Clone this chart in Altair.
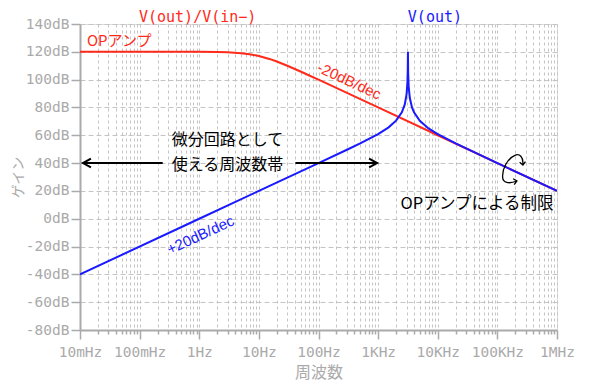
import altair as alt
import pandas as pd

# ---- data ----
red_f = [0.01, 0.1, 1, 2, 3, 5, 7, 10, 15, 20, 30, 50, 70, 100, 1000, 1e4, 1e5, 1e6]
red_db = [120, 120, 119.96, 119.83, 119.62, 119.03, 118.26, 116.99, 114.89, 113.01,
          110.0, 105.85, 102.96, 99.96, 80, 60, 40, 20]

blue_f = [0.01, 1, 10, 100, 300, 500, 1000, 1500, 2000, 2500, 2800, 3000, 3100, 3140,
          3162, 3190, 3250, 3400, 3700, 4000, 5000, 7000, 10000, 20000, 1e5, 1e6]
blue_db = [-40, 0, 20, 40, 49.6, 54.2, 60.9, 65.7, 70.5, 76.5, 82.2, 89.5, 98, 107,
           120, 105, 95.2, 86.8, 80.0, 76.5, 70.4, 64.9, 60.9, 54.2, 40, 20]

x_tick_labels = ["10mHz", "100mHz", "1Hz", "10Hz", "100Hz", "1KHz", "10KHz", "100KHz", "1MHz"]
decades = [0.01, 0.1, 1, 10, 100, 1e3, 1e4, 1e5, 1e6]
grid_f = [d * m for d in decades[:-1] for m in range(1, 10)] + [1e6]
y_ticks = [-80, -60, -40, -20, 0, 20, 40, 60, 80, 100, 120, 140]

# annotations (freq, dB)
titles = ["V(out)/V(in\u2212)", "V(out)"]
title_f = [0.94, 8970]
title_db = [145.3, 145.3]
title_col = ["#ff2a1a", "#1a1aff"]

jp_text = ["微分回路として", "使える周波数帯"]
jp_f = [0.345, 0.345]
jp_db = [56.6, 38.6]

RED = "#ff2a1a"
BLUE = "#1a1aff"
GRAY = "#aaaaaa"

red_df = pd.DataFrame({"f": red_f, "db": red_db})
blue_df = pd.DataFrame({"f": blue_f, "db": blue_db})

label_expr = "[" + ",".join("'%s'" % s for s in x_tick_labels) + "][round(log(datum.value)/LN10)+2]"
is_decade = "abs(log(datum.value)/LN10 - round(log(datum.value)/LN10)) < 0.001"

xscale = alt.Scale(type="log", domain=[0.01, 1e6], nice=False)
yscale = alt.Scale(domain=[-80, 140], nice=False)

xaxis = alt.Axis(
    values=grid_f,
    labelExpr="(%s) ? %s : ''" % (is_decade, label_expr),
    grid=True, gridDash=[3, 3], gridColor="#c4c4c4", gridWidth=1,
    tickColor=GRAY, tickWidth=1.5,
    tickSize={"condition": {"test": is_decade, "value": 9}, "value": 4},
    domainColor=GRAY, domainWidth=2,
    labelFont="DejaVu Sans Mono", labelFontSize=14.5, labelColor=GRAY,
    labelPadding=6, labelFlush=False, labelOverlap=False,
    title="周波数", titleFont="Noto Sans CJK JP", titleFontSize=16, titleColor=GRAY,
    titleFontWeight="normal", titleY=42, titleBaseline="middle",
)
yaxis = alt.Axis(
    values=y_ticks, labelExpr="datum.value + 'dB'",
    grid=True, gridDash=[5, 3], gridColor="#c4c4c4", gridWidth=1,
    tickColor=GRAY, tickWidth=1.5, tickSize=9,
    domainColor=GRAY, domainWidth=2,
    labelFont="DejaVu Sans Mono", labelFontSize=14.5, labelColor=GRAY,
    labelPadding=2, labelFlush=False, labelOverlap=False,
    title="ゲイン", titleFont="Noto Sans CJK JP", titleFontSize=14, titleColor=GRAY,
    titleFontWeight="normal", titleX=-62, titleY=153, titleAngle=270,
    titleAlign="center", titleBaseline="middle",
)

X = alt.X("f:Q", scale=xscale, axis=xaxis)
Y = alt.Y("db:Q", scale=yscale, axis=yaxis)

red_line = alt.Chart(red_df).mark_line(color=RED, strokeWidth=2, clip=True).encode(x=X, y=Y)
blue_line = alt.Chart(blue_df).mark_line(color=BLUE, strokeWidth=2, clip=True).encode(x=X, y=Y)

def txt(df, **kw):
    return alt.Chart(df).mark_text(**kw).encode(x=X, y=Y, text="t:N")

title_df = pd.DataFrame({"t": titles, "f": title_f, "db": title_db, "c": title_col})
title_marks = alt.Chart(title_df).mark_text(font="DejaVu Sans Mono", fontSize=15,
                                            baseline="middle", align="center").encode(
    x=X, y=Y, text="t:N", color=alt.Color("c:N", scale=None))

op_lbl = txt(pd.DataFrame({"t": ["OPアンプ"], "f": [0.0131], "db": [128]}),
             font="Noto Sans CJK JP", fontSize=15, color=RED, align="left", baseline="middle")
m20 = txt(pd.DataFrame({"t": ["-20dB/dec"], "f": [327], "db": [99]}),
          font="Liberation Sans", fontSize=15, color=RED, angle=25, align="center", baseline="middle")
p20 = txt(pd.DataFrame({"t": ["+20dB/dec"], "f": [1.05], "db": [-11.7]}),
          font="Liberation Sans", fontSize=15, color=BLUE, angle=335, align="center", baseline="middle")
jp = txt(pd.DataFrame({"t": jp_text, "f": jp_f, "db": jp_db}),
         font="Noto Sans CJK JP", fontSize=16, color="black", align="left", baseline="middle")
lim = txt(pd.DataFrame({"t": ["OPアンプによる制限"], "f": [877000], "db": [10.6]}),
          font="Noto Sans CJK JP", fontSize=16.5, color="black", align="right", baseline="middle")

arrow_df = pd.DataFrame({"f": [0.0112, 41], "f2": [0.244, 962], "db": [40, 40]})
arrow_lines = alt.Chart(arrow_df).mark_rule(color="black", strokeWidth=2).encode(
    x=X, x2="f2:Q", y=Y)
head_l = alt.Chart(pd.DataFrame({"f": [0.0112], "db": [40]})).mark_point(
    shape="M1,-0.55L0,0L1,0.55", size=256, filled=False, color="black", strokeWidth=2, opacity=1).encode(
    x=X, y=Y)
head_r = alt.Chart(pd.DataFrame({"f": [962], "db": [40]})).mark_point(
    shape="M-1,-0.55L0,0L-1,0.55", size=256, filled=False, color="black", strokeWidth=2, opacity=1).encode(
    x=X, y=Y)

curl_path = ("M0.55,-0.33C0.6,-0.9 0.3,-1.1 0.05,-1.0C-0.45,-0.8 -0.85,-0.1 -0.8,0.5"
             "C-0.78,0.85 -0.4,0.95 0.15,0.73"
             "M0.33,-0.52L0.55,-0.33L0.72,-0.56"
             "M-0.1,0.58L0.15,0.73L-0.03,0.97")
curl = alt.Chart(pd.DataFrame({"f": [195000], "db": [35]})).mark_point(
    shape=curl_path, size=900, filled=False, color="black", strokeWidth=1.3, opacity=1).encode(
    x=X, y=Y)

chart = alt.layer(
    red_line, blue_line, arrow_lines, head_l, head_r, curl,
    title_marks, op_lbl, m20, p20, jp, lim,
).properties(
    width=477, height=306,
    autosize=alt.AutoSizeParams(type="none"),
    padding={"left": 72, "top": 16, "right": 35, "bottom": 58},
).configure_view(stroke="#bbbbbb", strokeWidth=1.5).configure(background="white")

chart.save("out.html", embed_options={"renderer": "svg", "actions": False})
